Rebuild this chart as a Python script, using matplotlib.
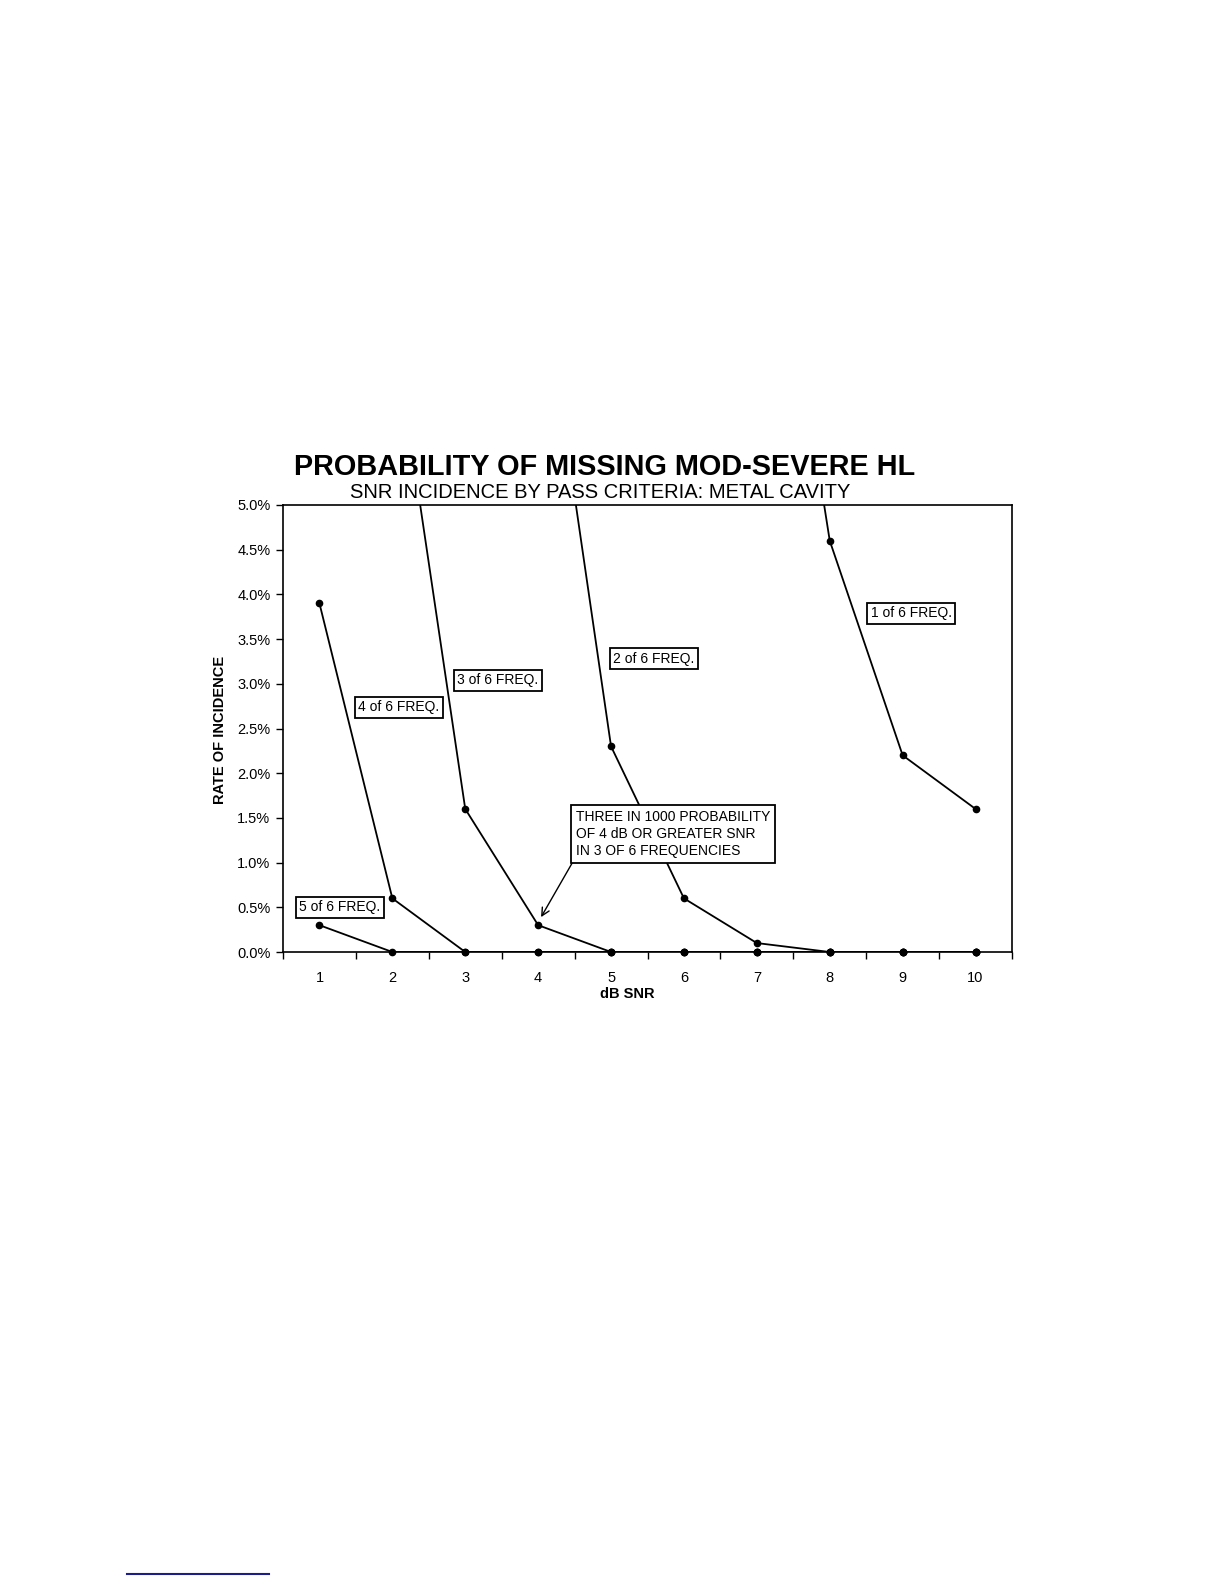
import matplotlib
matplotlib.use("Agg")
import matplotlib.pyplot as plt
import numpy as np
from matplotlib.lines import Line2D
from matplotlib.ticker import FixedLocator, FuncFormatter

plt.rcParams["font.family"] = ["Liberation Sans", "DejaVu Sans"]

# dB SNR categories and incidence (%) per pass criterion.
# Points above 5% are off the plot and only steer the clipped line segments.
snr = np.arange(1, 11)
one_of_6 = [np.nan, np.nan, np.nan, np.nan, np.nan, np.nan, 9.8, 4.6, 2.2, 1.6]
two_of_6 = [np.nan, np.nan, np.nan, 7.9, 2.3, 0.6, 0.1, 0.0, 0.0, 0.0]
three_of_6 = [np.nan, 7.1, 1.6, 0.3, 0.0, 0.0, 0.0, 0.0, 0.0, 0.0]
four_of_6 = [3.9, 0.6, 0.0, 0.0, 0.0, 0.0, 0.0, 0.0, 0.0, 0.0]
five_of_6 = [0.3, 0.0, 0.0, 0.0, 0.0, 0.0, 0.0, 0.0, 0.0, 0.0]

series = [one_of_6, two_of_6, three_of_6, four_of_6, five_of_6]
series_labels = ["1 of 6 FREQ.", "2 of 6 FREQ.", "3 of 6 FREQ.", "4 of 6 FREQ.", "5 of 6 FREQ."]
note_text = "THREE IN 1000 PROBABILITY\nOF 4 dB OR GREATER SNR\nIN 3 OF 6 FREQUENCIES"

Y_MAX = 5.0

fig = plt.figure(figsize=(12.24, 15.84), dpi=100)
ax = fig.add_axes([283 / 1224, 1 - 952 / 1584, 729 / 1224, 447 / 1584])

for vals in series:
    vals = np.asarray(vals, dtype=float)
    ax.plot(snr, vals, color="black", lw=1.3)
    # markers drawn unclipped so the ones sitting on 0% show in full
    shown = vals <= Y_MAX
    ax.plot(snr[shown], vals[shown], ls="none", color="black", marker="o",
            markersize=4.5, clip_on=False, zorder=4)

ax.set_xlim(0.5, 10.5)
ax.set_ylim(0, Y_MAX)

ax.xaxis.set_major_locator(FixedLocator(snr))
ax.xaxis.set_minor_locator(FixedLocator(np.arange(0.5, 11, 1.0)))
ax.tick_params(axis="x", which="major", length=0, pad=14, labelsize=10.5)
ax.tick_params(axis="x", which="minor", length=5, width=1, direction="out")
ax.set_yticks(np.arange(0, 5.01, 0.5))
ax.yaxis.set_major_formatter(FuncFormatter(lambda v, _: f"{v:.1f}%"))
ax.tick_params(axis="y", length=5, width=1, direction="out", pad=4, labelsize=10.5)
for s in ax.spines.values():
    s.set_linewidth(1.2)
    s.set_color("black")

box = dict(boxstyle="square,pad=0.25", fc="white", ec="black", lw=1.3)
label_pos = [(9.12, 3.79), (5.59, 3.28), (3.45, 3.04), (2.09, 2.74), (1.28, 0.50)]
for text, (lx, ly) in zip(series_labels, label_pos):
    ax.text(lx, ly, text, fontsize=10, ha="center", va="center", bbox=box, zorder=5)

ax.text(4.52, 1.32, note_text, fontsize=10, ha="left", va="center", linespacing=1.3,
        bbox=dict(boxstyle="square,pad=0.35", fc="white", ec="black", lw=1.3), zorder=5)
ax.annotate("", xy=(4.04, 0.39), xytext=(4.47, 1.0),
            arrowprops=dict(arrowstyle="->", lw=1.0, color="black", shrinkA=0, shrinkB=0,
                            mutation_scale=14))

fig.text(605 / 1224, 1 - 467 / 1584, "PROBABILITY OF MISSING MOD-SEVERE HL",
         fontsize=20.8, fontweight="bold", ha="center", va="center")
fig.text(600 / 1224, 1 - 492 / 1584, "SNR INCIDENCE BY PASS CRITERIA: METAL CAVITY",
         fontsize=14.5, ha="center", va="center")
fig.text(627 / 1224, 1 - 994 / 1584, "dB SNR", fontsize=10.5, fontweight="bold",
         ha="center", va="center")
fig.text(220 / 1224, 1 - 730 / 1584, "RATE OF INCIDENCE", fontsize=10.5, fontweight="bold",
         rotation=90, ha="center", va="center")

# short footnote rule at the bottom of the page
fig.add_artist(Line2D([127 / 1224, 269 / 1224], [1 - 1574 / 1584] * 2,
                      color="#1c1c8a", lw=1.5, transform=fig.transFigure))

fig.savefig("out.png", dpi=100)
